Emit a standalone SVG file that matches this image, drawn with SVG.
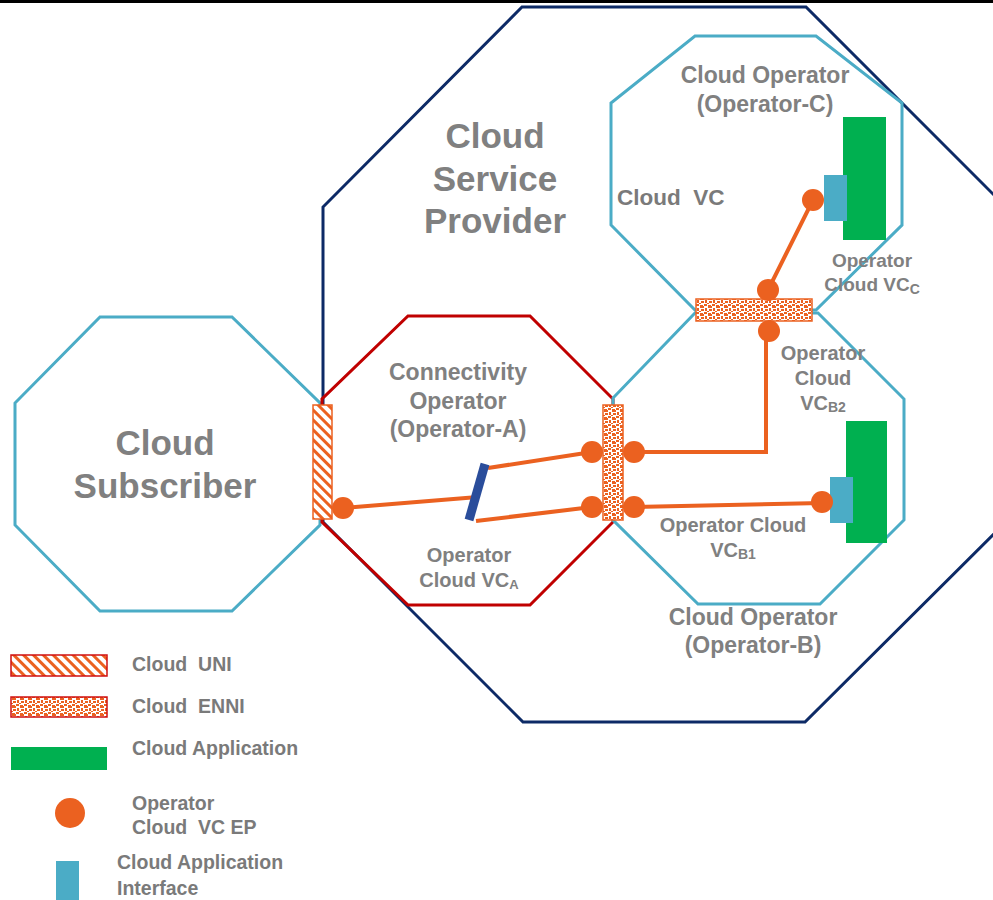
<svg xmlns="http://www.w3.org/2000/svg" width="993" height="900" viewBox="0 0 993 900">
<style>
.oct{fill:none;stroke-width:3;stroke-linejoin:miter}
.navy{stroke:#0D2A66}
.lb{stroke:#4BACC6}
.red{stroke:#C00000}
.t{font-family:"Liberation Sans",Arial,sans-serif;font-weight:bold;fill:#808080;text-anchor:middle;white-space:pre}
.tl{font-family:"Liberation Sans",Arial,sans-serif;font-weight:bold;fill:#7A7A7A;white-space:pre}
.vc{stroke:#EB6120;stroke-width:4;fill:none}
.ep{fill:#EB6120}
.app{fill:#00B050}
.api{fill:#4BACC6}
.uni{fill:url(#hatch);stroke:#EB6120;stroke-width:1.5}
.enni{fill:url(#dots);stroke:#EB6120;stroke-width:1.5}
</style>
<defs>
<pattern id="hatch" patternUnits="userSpaceOnUse" width="7" height="7" patternTransform="rotate(-45)">
<rect width="7" height="7" fill="#fff"/>
<rect x="0" y="0" width="3" height="7" fill="#EB6120"/>
</pattern>
<pattern id="dots" patternUnits="userSpaceOnUse" width="8" height="8">
<rect width="8" height="8" fill="#fff"/>
<rect x="0" y="0" width="3" height="2" fill="#EB6120"/>
<rect x="4" y="1" width="3" height="3" fill="#EB6120"/>
<rect x="1" y="4" width="2" height="3" fill="#EB6120"/>
<rect x="5" y="5" width="3" height="2" fill="#EB6120"/>
<rect x="3" y="7" width="2" height="1" fill="#EB6120"/>
<rect x="7" y="2" width="1" height="2" fill="#EB6120"/>
</pattern>
</defs>
<rect x="0" y="0" width="993" height="900" fill="#fff"/>
<rect x="0" y="0" width="993" height="3" fill="#000"/>

<g id="csp">
<polygon class="oct navy" points="522,7 806,7 1006,207 1006,522 805,722 523,722 323,522 323,207"/>
<text class="t" x="495" y="148" font-size="35">Cloud</text>
<text class="t" x="495" y="191" font-size="35">Service</text>
<text class="t" x="495" y="233" font-size="35">Provider</text>
</g>

<g id="subscriber">
<polygon class="oct lb" points="100,317 232,317 320,403 320,525 232,611 100,611 15,525 15,403"/>
<text class="t" x="165" y="455" font-size="35">Cloud</text>
<text class="t" x="165" y="498" font-size="35">Subscriber</text>
</g>

<g id="operator-a">
<polygon class="oct red" points="408,316 530,316 613,399 613,522 530,605 408,605 322,522 322,399"/>
<text class="t" x="458" y="380" font-size="23">Connectivity</text>
<text class="t" x="458" y="409" font-size="23">Operator</text>
<text class="t" x="458" y="437" font-size="23">(Operator-A)</text>
<text class="t" x="469" y="562" font-size="20">Operator</text>
<text class="t" x="469" y="587" font-size="20">Cloud VC<tspan font-size="13" dy="2">A</tspan></text>
</g>

<g id="operator-c">
<polygon class="oct lb" points="695,36 816,36 902,103 902,225 816,310 695,310 611,225 611,103"/>
<text class="t" x="765" y="83" font-size="23">Cloud Operator</text>
<text class="t" x="765" y="112" font-size="23">(Operator-C)</text>
<text class="tl" x="617" y="205" font-size="22.5">Cloud  VC</text>
<rect class="app" x="843" y="117" width="43" height="123"/>
<rect class="api" x="824" y="175" width="23" height="46"/>
<text class="t" x="872" y="267" font-size="19">Operator</text>
<text class="t" x="872" y="291" font-size="19">Cloud VC<tspan font-size="14" dy="3">C</tspan></text>
</g>

<g id="operator-b">
<polygon class="oct lb" points="695,313 818,313 904,399 904,520 820,604 698,604 613,520 613,398"/>
<rect class="app" x="846" y="421" width="41" height="122"/>
<rect class="api" x="830" y="477" width="23" height="46"/>
<text class="t" x="823" y="360" font-size="20">Operator</text>
<text class="t" x="823" y="385" font-size="20">Cloud</text>
<text class="t" x="823" y="410" font-size="20">VC<tspan font-size="14" dy="2">B2</tspan></text>
<text class="t" x="733" y="532" font-size="20">Operator Cloud</text>
<text class="t" x="733" y="557" font-size="20">VC<tspan font-size="14" dy="2">B1</tspan></text>
<text class="t" x="753" y="625" font-size="23" fill="#737373">Cloud Operator</text>
<text class="t" x="753" y="653" font-size="23" fill="#737373">(Operator-B)</text>
</g>

<g id="connectors">
<line class="vc" x1="343" y1="508" x2="478" y2="497"/>
<line class="vc" x1="488" y1="468" x2="592" y2="452"/>
<line class="vc" x1="476" y1="521" x2="592" y2="507"/>
<polyline class="vc" points="634,452 766,452 766,331"/>
<line class="vc" x1="634" y1="507" x2="822" y2="503"/>
<line class="vc" x1="768" y1="290" x2="813" y2="200"/>
<line x1="485" y1="464" x2="469" y2="520" stroke="#2A4D9B" stroke-width="9"/>
</g>

<g id="interfaces">
<rect class="uni" x="313" y="405" width="19" height="114"/>
<rect class="enni" x="603" y="405" width="20" height="115"/>
<rect class="enni" x="696" y="299" width="116" height="22"/>
</g>

<g id="endpoints">
<circle class="ep" cx="343" cy="508" r="11"/>
<circle class="ep" cx="592" cy="452" r="11"/>
<circle class="ep" cx="592" cy="507" r="11"/>
<circle class="ep" cx="634" cy="452" r="11"/>
<circle class="ep" cx="634" cy="507" r="11"/>
<circle class="ep" cx="768" cy="290" r="11"/>
<circle class="ep" cx="769" cy="331" r="11"/>
<circle class="ep" cx="813" cy="200" r="11"/>
<circle class="ep" cx="822" cy="502" r="11"/>
</g>

<g id="legend">
<rect x="11" y="655" width="96" height="21" fill="url(#hatch)" stroke="#D01010" stroke-width="1.5"/>
<rect x="11" y="697" width="96" height="20" fill="url(#dots)" stroke="#D01010" stroke-width="1.5"/>
<rect class="app" x="11" y="747" width="96" height="23"/>
<circle class="ep" cx="70" cy="813" r="15"/>
<rect class="api" x="56" y="861" width="23" height="39"/>
<text class="tl" x="132" y="671" font-size="19.5">Cloud  UNI</text>
<text class="tl" x="132" y="713" font-size="19.5">Cloud  ENNI</text>
<text class="tl" x="132" y="755" font-size="19.5">Cloud Application</text>
<text class="tl" x="132" y="810" font-size="19.5">Operator</text>
<text class="tl" x="132" y="834" font-size="19.5">Cloud  VC EP</text>
<text class="tl" x="117" y="869" font-size="19.5">Cloud Application</text>
<text class="tl" x="117" y="895" font-size="19.5">Interface</text>
</g>
</svg>
